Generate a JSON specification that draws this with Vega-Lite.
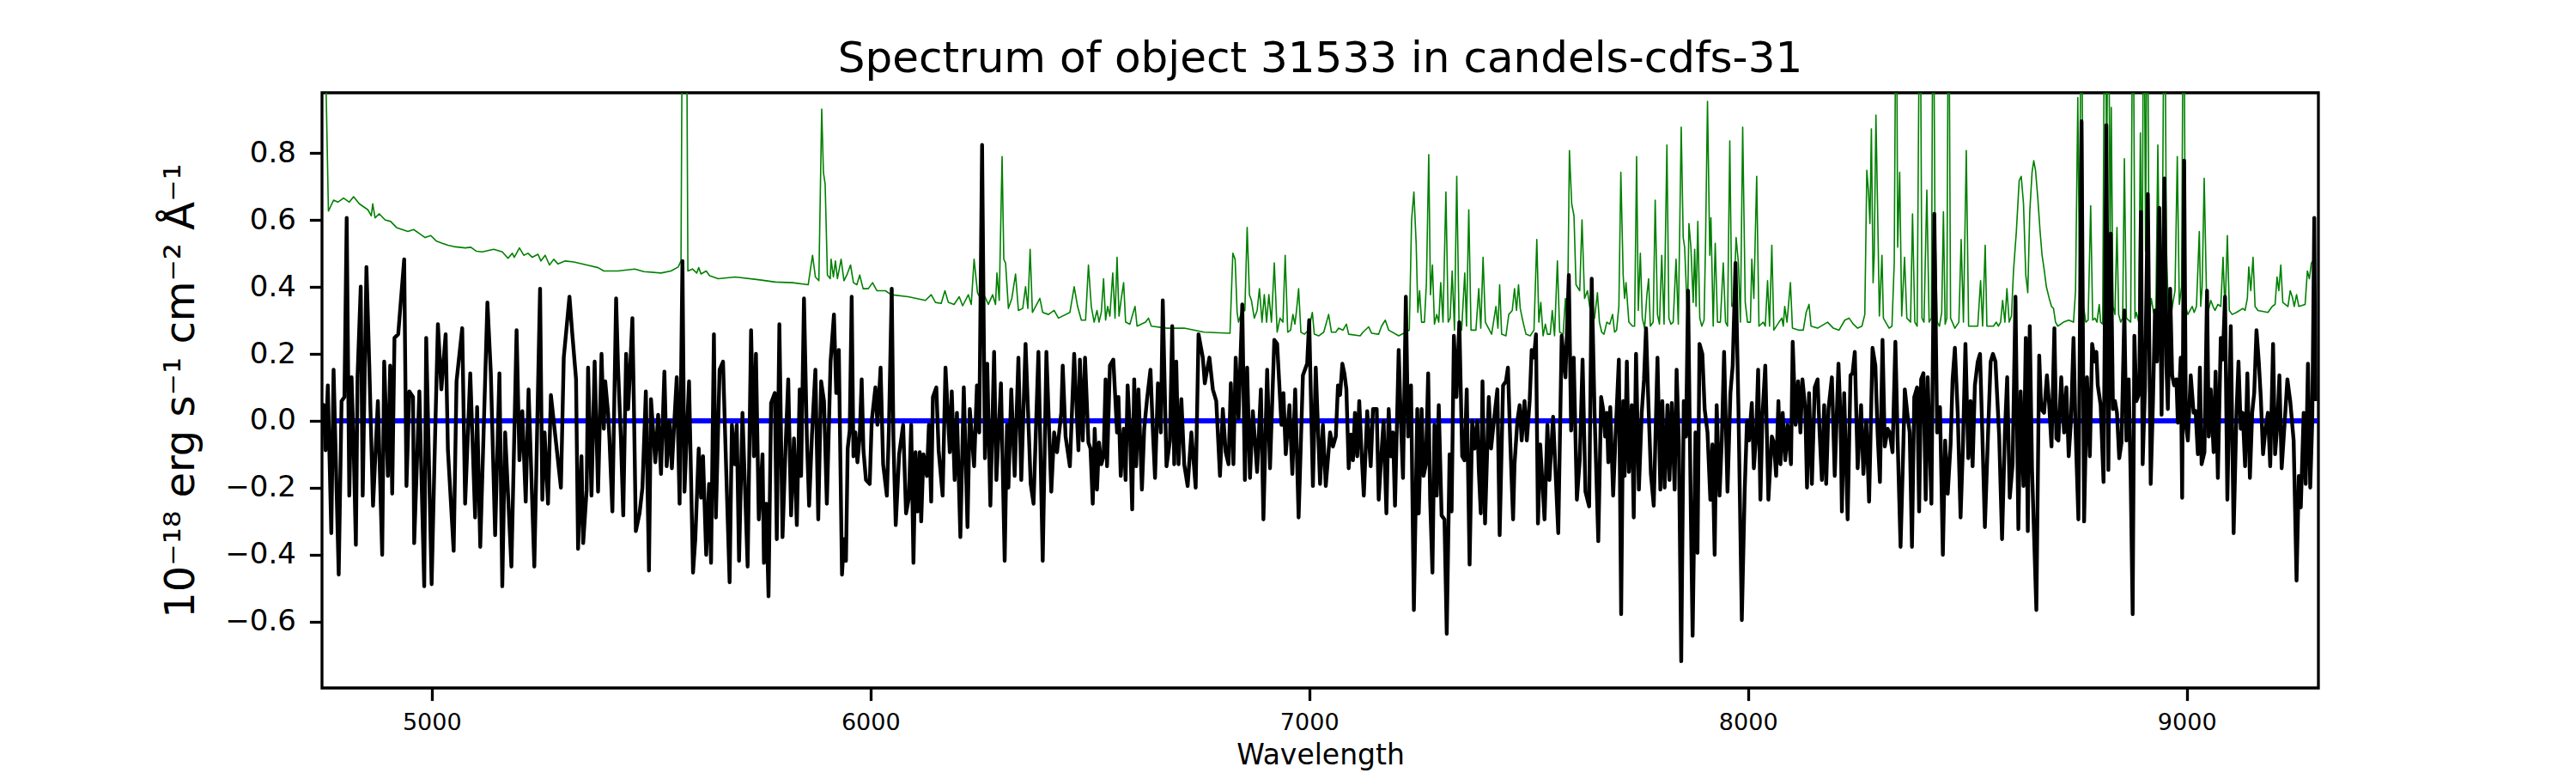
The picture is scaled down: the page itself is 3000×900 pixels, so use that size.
{
  "$schema": "https://vega.github.io/schema/vega-lite/v6.json",
  "autosize": {"type": "none"},
  "padding": {"left": 375, "top": 108, "right": 300, "bottom": 99},
  "width": 2325,
  "height": 693,
  "title": {
    "text": "Spectrum of object 31533 in candels-cdfs-31",
    "fontSize": 50,
    "font": "DejaVu Sans",
    "fontWeight": "normal",
    "color": "black",
    "anchor": "middle",
    "frame": "group",
    "baseline": "alphabetic",
    "offset": 22,
    "dy": 48
  },
  "datasets": {
    "zero": [{"w": 4783, "f": 0}, {"w": 9298, "f": 0}],
    "spec": [
      {"w":4751,"f":0.05},{"w":4753.6,"f":0.047},{"w":4758.1,"f":-0.088},{"w":4763.3,"f":0.106},{"w":4771.2,"f":-0.336},{"w":4776.4,"f":0.153},{"w":4788.1,"f":-0.46},{"w":4794.6,"f":0.059},{"w":4801.1,"f":0.071},{"w":4806.3,"f":0.607},{"w":4812.2,"f":-0.224},{"w":4817.4,"f":0.13},{"w":4822,"f":-0.071},{"w":4827.2,"f":-0.371},{"w":4831.1,"f":0.136},{"w":4838.3,"f":0.401},{"w":4842.8,"f":-0.224},{"w":4851.3,"f":0.46},{"w":4857.8,"f":0.165},{"w":4866.3,"f":-0.254},{"w":4877.4,"f":0.059},{"w":4887.2,"f":-0.401},{"w":4891.7,"f":0.177},{"w":4900.2,"f":-0.165},{"w":4905.4,"f":0.165},{"w":4910,"f":-0.218},{"w":4915.2,"f":0.248},{"w":4923.7,"f":0.259},{"w":4937.3,"f":0.483},{"w":4942.5,"f":-0.195},{"w":4949.1,"f":0.088},{"w":4957.5,"f":0.071},{"w":4960.1,"f":-0.366},{"w":4971.9,"f":0.088},{"w":4983,"f":-0.495},{"w":4987.5,"f":0.248},{"w":4999.9,"f":-0.489},{"w":5006.4,"f":-0.118},{"w":5014.2,"f":0.289},{"w":5022.1,"f":0.094},{"w":5031.8,"f":0.259},{"w":5037,"f":-0.088},{"w":5050.1,"f":-0.389},{"w":5056.6,"f":0.118},{"w":5069.6,"f":0.277},{"w":5076.2,"f":-0.248},{"w":5087.9,"f":0.142},{"w":5099,"f":-0.289},{"w":5103.5,"f":0.041},{"w":5110.7,"f":-0.377},{"w":5127,"f":0.354},{"w":5134.8,"f":0.142},{"w":5144.6,"f":-0.342},{"w":5154.4,"f":0.142},{"w":5160.9,"f":-0.495},{"w":5167.4,"f":-0.035},{"w":5181.7,"f":-0.436},{"w":5193.5,"f":0.271},{"w":5200,"f":-0.118},{"w":5206.5,"f":0.029},{"w":5214.3,"f":-0.242},{"w":5220.8,"f":0.094},{"w":5233.9,"f":-0.436},{"w":5247,"f":0.395},{"w":5252.1,"f":-0.236},{"w":5257.3,"f":-0.035},{"w":5265.1,"f":-0.248},{"w":5271.7,"f":0.077},{"w":5294.5,"f":-0.2},{"w":5301,"f":0.189},{"w":5314,"f":0.371},{"w":5320.5,"f":0.259},{"w":5329,"f":0.124},{"w":5333.6,"f":-0.383},
      {"w":5341.4,"f":-0.106},{"w":5345.3,"f":-0.366},{"w":5353.2,"f":-0.206},{"w":5356.4,"f":0.159},{"w":5364.2,"f":-0.224},{"w":5371.4,"f":0.177},{"w":5379.2,"f":-0.212},{"w":5387.1,"f":0.2},{"w":5392.3,"f":-0.024},{"w":5395.5,"f":0.118},{"w":5402,"f":0.024},{"w":5405.3,"f":-0.059},{"w":5411.8,"f":-0.271},{"w":5420.3,"f":0.366},{"w":5424.9,"f":0.153},{"w":5431.4,"f":-0.059},{"w":5436.6,"f":-0.283},{"w":5443.1,"f":0.2},{"w":5447.7,"f":0.035},{"w":5452.2,"f":0.153},{"w":5457.4,"f":0.307},{"w":5460.7,"f":0.059},{"w":5465.3,"f":-0.33},{"w":5473.7,"f":-0.277},{"w":5480.3,"f":-0.2},{"w":5488.1,"f":0.088},{"w":5495.2,"f":-0.448},{"w":5499.8,"f":0.065},{"w":5509.6,"f":-0.124},{"w":5516.1,"f":0.018},{"w":5522.6,"f":-0.159},{"w":5530.4,"f":0.147},{"w":5535.6,"f":-0.136},{"w":5542.2,"f":0},{"w":5547.4,"f":-0.142},{"w":5551.9,"f":-0.029},{"w":5558.5,"f":0.13},{"w":5565,"f":-0.248},{"w":5571.5,"f":0.478},{"w":5576.1,"f":-0.212},{"w":5586.5,"f":0.118},{"w":5595.6,"f":-0.454},{"w":5600.8,"f":-0.354},{"w":5608.6,"f":-0.083},{"w":5613.9,"f":-0.23},{"w":5618.4,"f":-0.106},{"w":5625.6,"f":-0.401},{"w":5632.1,"f":-0.189},{"w":5636.7,"f":-0.425},{"w":5643.2,"f":0.259},{"w":5647.7,"f":-0.289},{"w":5656.2,"f":0.153},{"w":5664,"f":0.177},{"w":5669.2,"f":-0.059},{"w":5679,"f":-0.483},{"w":5684.2,"f":-0.012},{"w":5690.7,"f":-0.13},{"w":5695.3,"f":-0.012},{"w":5700.5,"f":-0.419},{"w":5708.3,"f":0.024},{"w":5720.1,"f":-0.436},{"w":5727.9,"f":0.271},{"w":5734.4,"f":-0.106},{"w":5739,"f":0.2},{"w":5745.5,"f":-0.295},{"w":5754,"f":-0.1},{"w":5757.2,"f":-0.425},{"w":5762.4,"f":-0.248},{"w":5767.7,"f":-0.525},{"w":5773.5,"f":0.053},{"w":5782,"f":0.083},{"w":5786.5,"f":-0.354},{"w":5792.4,"f":0.289},{"w":5799.6,"f":-0.348},{"w":5806.1,"f":-0.094},{"w":5812.6,"f":0.124},{"w":5819.1,"f":-0.283},{"w":5825.6,"f":-0.053},{"w":5832.2,"f":-0.312},{"w":5838.7,"f":0.094},{"w":5841.9,"f":-0.165},{"w":5848.5,"f":0.366},{"w":5855,"f":-0.047},{"w":5860.2,"f":-0.254},{"w":5866.7,"f":-0.041},{"w":5874.5,"f":0.153},{"w":5881,"f":-0.295},{"w":5887.6,"f":0.118},{"w":5894.1,"f":0.059},{"w":5900.6,"f":-0.248},{"w":5909.1,"f":0.177},
      {"w":5916.8,"f":0.318},{"w":5922,"f":0.083},{"w":5927.9,"f":0.212},{"w":5935.1,"f":-0.46},{"w":5939.6,"f":-0.354},{"w":5944.2,"f":-0.419},{"w":5948.1,"f":-0.083},{"w":5952.7,"f":-0.029},{"w":5957.2,"f":0.371},{"w":5961.2,"f":-0.106},{"w":5965.7,"f":-0.035},{"w":5970.3,"f":-0.124},{"w":5975.5,"f":-0.047},{"w":5980,"f":0.124},{"w":5984,"f":-0.088},{"w":5989.8,"f":-0.177},{"w":5998.3,"f":-0.189},{"w":6002.9,"f":0},{"w":6011.3,"f":0.1},{"w":6015.9,"f":-0.012},{"w":6023.1,"f":0.159},{"w":6028.9,"f":-0.13},{"w":6037.4,"f":-0.224},{"w":6042,"f":-0.029},{"w":6048.5,"f":0.395},{"w":6052.4,"f":-0.059},{"w":6057.6,"f":-0.312},{"w":6065.4,"f":-0.1},{"w":6074.5,"f":-0.012},{"w":6081.1,"f":-0.277},{"w":6087.6,"f":-0.23},{"w":6092.8,"f":-0.012},{"w":6098,"f":-0.425},{"w":6102.6,"f":-0.094},{"w":6107.1,"f":-0.271},{"w":6112.3,"f":-0.094},{"w":6115.6,"f":-0.301},{"w":6120.8,"f":-0.1},{"w":6128.6,"f":-0.165},{"w":6133.2,"f":-0.012},{"w":6138.4,"f":-0.242},{"w":6142.3,"f":0.071},{"w":6150.1,"f":0.1},{"w":6155.4,"f":-0.088},{"w":6164.5,"f":-0.224},{"w":6171,"f":0.159},{"w":6180.8,"f":-0.094},{"w":6185.3,"f":0.088},{"w":6191.9,"f":-0.177},{"w":6197.1,"f":0.024},{"w":6204.9,"f":-0.348},{"w":6212.7,"f":0.1},{"w":6221.2,"f":-0.318},{"w":6226.4,"f":0.035},{"w":6236.2,"f":-0.136},{"w":6242.7,"f":0.106},{"w":6247.9,"f":-0.035},{"w":6254.4,"f":0.825},{"w":6260.9,"f":-0.112},{"w":6266.1,"f":0.171},{"w":6273.3,"f":-0.254},{"w":6281.8,"f":0.206},{"w":6287,"f":-0.177},{"w":6297.4,"f":0.112},{"w":6305.9,"f":-0.419},{"w":6311.1,"f":-0.012},{"w":6314.4,"f":-0.2},{"w":6320.9,"f":0.094},{"w":6328.7,"f":-0.165},{"w":6337.2,"f":0.189},{"w":6343.7,"f":-0.177},{"w":6353.5,"f":0.23},{"w":6365.2,"f":-0.189},{"w":6371.7,"f":-0.248},{"w":6382.8,"f":0.206},{"w":6392.6,"f":-0.419},{"w":6401,"f":0.206},{"w":6412.1,"f":-0.212},{"w":6418.6,"f":-0.035},{"w":6425.2,"f":-0.094},{"w":6434.9,"f":0.024},{"w":6438.2,"f":0.165},{"w":6444.7,"f":-0.047},{"w":6454.5,"f":-0.136},{"w":6464.3,"f":0.2},{"w":6474,"f":-0.088},{"w":6477.3,"f":0.183},{"w":6483.8,"f":-0.059},{"w":6489,"f":0.189},
      {"w":6496.8,"f":-0.065},{"w":6501.4,"f":-0.083},{"w":6506.6,"f":-0.248},{"w":6511.1,"f":-0.024},{"w":6516.3,"f":-0.206},{"w":6520.9,"f":-0.065},{"w":6526.1,"f":-0.13},{"w":6531.3,"f":-0.106},{"w":6535.9,"f":0.124},{"w":6539.2,"f":-0.136},{"w":6545.7,"f":0.165},{"w":6553.5,"f":0.183},{"w":6562,"f":-0.035},{"w":6565.2,"f":0.071},{"w":6570.4,"f":-0.165},{"w":6577,"f":-0.024},{"w":6581.5,"f":-0.177},{"w":6586.1,"f":0.106},{"w":6591.3,"f":-0.024},{"w":6596.5,"f":-0.265},{"w":6601.1,"f":0.124},{"w":6605.6,"f":-0.136},{"w":6610.8,"f":0.094},{"w":6618.7,"f":-0.206},{"w":6623.9,"f":-0.024},{"w":6630.4,"f":0.065},{"w":6638.2,"f":0.153},{"w":6643.4,"f":-0.024},{"w":6648.6,"f":-0.171},{"w":6655.2,"f":0.112},{"w":6661.7,"f":-0.035},{"w":6666.2,"f":0.36},{"w":6674.7,"f":-0.136},{"w":6682.5,"f":-0.059},{"w":6687.7,"f":0.283},{"w":6692.3,"f":-0.13},{"w":6696.9,"f":0.177},{"w":6702.1,"f":-0.13},{"w":6708.6,"f":0.065},{"w":6715.1,"f":-0.13},{"w":6722.9,"f":-0.195},{"w":6731.4,"f":-0.035},{"w":6741.2,"f":-0.2},{"w":6747.7,"f":0.259},{"w":6757.5,"f":0.189},{"w":6762,"f":0.112},{"w":6767.3,"f":0.153},{"w":6772.5,"f":0.189},{"w":6780.3,"f":0.094},{"w":6788.1,"f":0.059},{"w":6796.6,"f":-0.165},{"w":6803.1,"f":0.035},{"w":6809.6,"f":-0.094},{"w":6816.1,"f":-0.13},{"w":6821.3,"f":0.112},{"w":6827.2,"f":-0.13},{"w":6832.4,"f":0.189},{"w":6838.9,"f":0.006},{"w":6847.4,"f":0.348},{"w":6853.3,"f":-0.177},{"w":6858.5,"f":0.159},{"w":6865,"f":-0.171},{"w":6871.5,"f":0.029},{"w":6881.3,"f":-0.153},{"w":6889.8,"f":0.094},{"w":6895.6,"f":-0.295},{"w":6904.1,"f":0.153},{"w":6910.6,"f":-0.142},{"w":6920.4,"f":0.242},{"w":6926.9,"f":0.23},{"w":6936.7,"f":-0.012},{"w":6941.2,"f":0.083},{"w":6946.5,"f":-0.1},{"w":6954.9,"f":0.047},{"w":6961.5,"f":-0.159},{"w":6968,"f":0.094},{"w":6975.8,"f":-0.289},{"w":6985.6,"f":0.136},{"w":6995.3,"f":0.171},{"w":6999.9,"f":0.301},{"w":7008.4,"f":-0.195},{"w":7014.9,"f":0.159},{"w":7024.7,"f":-0.189},{"w":7031.2,"f":-0.012},{"w":7037.7,"f":-0.195},{"w":7047.5,"f":-0.035},{"w":7054,"f":-0.077},{"w":7060.6,"f":-0.047},{"w":7065.5,"f":0.106},
      {"w":7070.3,"f":0.077},{"w":7075.5,"f":0.171},{"w":7080.1,"f":0.142},{"w":7084.7,"f":0.094},{"w":7089.9,"f":-0.142},{"w":7095.1,"f":-0.041},{"w":7099.7,"f":-0.118},{"w":7104.2,"f":0.024},{"w":7109.4,"f":-0.106},{"w":7114,"f":0.059},{"w":7119.2,"f":-0.094},{"w":7124.4,"f":-0.224},{"w":7132.2,"f":0.029},{"w":7140.1,"f":-0.136},{"w":7145.3,"f":0.035},{"w":7153.8,"f":0.035},{"w":7158.3,"f":-0.236},{"w":7164.8,"f":-0.094},{"w":7169.4,"f":0},{"w":7175.9,"f":-0.277},{"w":7181.1,"f":0.035},{"w":7185.7,"f":-0.106},{"w":7190.9,"f":-0.035},{"w":7195.5,"f":-0.254},{"w":7203.9,"f":0.212},{"w":7208.5,"f":0.012},{"w":7213.7,"f":-0.171},{"w":7220.2,"f":0.371},{"w":7225.4,"f":-0.047},{"w":7232,"f":0.106},{"w":7238.5,"f":-0.566},{"w":7246.3,"f":0.035},{"w":7249.6,"f":-0.277},{"w":7256.1,"f":0.035},{"w":7260.6,"f":-0.165},{"w":7265.8,"f":-0.13},{"w":7271.1,"f":0.142},{"w":7275.6,"f":-0.236},{"w":7280.8,"f":-0.454},{"w":7285.4,"f":-0.012},{"w":7290.6,"f":-0.224},{"w":7295.2,"f":0.047},{"w":7301.7,"f":-0.283},{"w":7308.2,"f":-0.295},{"w":7313.4,"f":-0.637},{"w":7319.9,"f":-0.1},{"w":7324.5,"f":-0.271},{"w":7329.7,"f":0.254},{"w":7335.6,"f":0.071},{"w":7342.1,"f":0.295},{"w":7348.6,"f":-0.106},{"w":7353.8,"f":-0.118},{"w":7359,"f":0.094},{"w":7365.5,"f":-0.43},{"w":7371.4,"f":0},{"w":7376.6,"f":-0.083},{"w":7383.2,"f":0},{"w":7386.4,"f":-0.147},{"w":7391,"f":-0.277},{"w":7394.9,"f":0.118},{"w":7400.7,"f":-0.307},{"w":7409.2,"f":0.071},{"w":7414.4,"f":-0.083},{"w":7420.9,"f":0},{"w":7428.8,"f":0.094},{"w":7434,"f":-0.342},{"w":7441.8,"f":0.106},{"w":7448.3,"f":0.118},{"w":7452.9,"f":0.159},{"w":7458.1,"f":-0.059},{"w":7464.6,"f":-0.295},{"w":7467.9,"f":-0.13},{"w":7474.4,"f":0},{"w":7479.6,"f":0.047},{"w":7484.2,"f":-0.059},{"w":7490.7,"f":0.059},{"w":7495.9,"f":-0.059},{"w":7502.4,"f":0.059},{"w":7507,"f":0.212},{"w":7512.2,"f":0.189},{"w":7516.8,"f":0.259},{"w":7521.3,"f":-0.307},{"w":7526.5,"f":-0.071},{"w":7531.1,"f":-0.177},{"w":7536.3,"f":-0.295},{"w":7542.8,"f":-0.012},{"w":7547.4,"f":-0.177},{"w":7555.8,"f":0.012},{"w":7567.6,"f":-0.336},{"w":7575.4,"f":0.254},{"w":7583.9,"f":0.13},{"w":7591.7,"f":0.436},{"w":7596.9,"f":-0.029},{"w":7602.8,"f":0.189},{"w":7610,"f":-0.236},{"w":7616.5,"f":-0.118},{"w":7623,"f":0.183},{"w":7629.5,"f":-0.212},{"w":7638,"f":-0.256},
      {"w":7643.8,"f":0.425},{"w":7650.3,"f":0.024},{"w":7658.8,"f":-0.36},{"w":7665.3,"f":0.071},{"w":7669.8,"f":0.035},{"w":7674.4,"f":-0.047},{"w":7678.3,"f":0.024},{"w":7681.6,"f":-0.124},{"w":7686.1,"f":0.041},{"w":7692.7,"f":-0.224},{"w":7699.2,"f":-0.012},{"w":7705.7,"f":0.183},{"w":7710.9,"f":-0.578},{"w":7715.5,"f":0.059},{"w":7718.7,"f":-0.165},{"w":7723.9,"f":0.177},{"w":7728.5,"f":-0.153},{"w":7735,"f":0.047},{"w":7739.6,"f":-0.289},{"w":7744.8,"f":0.2},{"w":7751.3,"f":-0.206},{"w":7757.8,"f":0.024},{"w":7763,"f":0.124},{"w":7767.6,"f":0.277},{"w":7772.2,"f":0.083},{"w":7778.7,"f":-0.159},{"w":7785.2,"f":-0.254},{"w":7793.7,"f":0.189},{"w":7800.2,"f":-0.206},{"w":7804.7,"f":0.059},{"w":7810,"f":-0.2},{"w":7816.5,"f":0.047},{"w":7821,"f":-0.177},{"w":7826.3,"f":0.053},{"w":7832.8,"f":-0.206},{"w":7837.3,"f":0.153},{"w":7842.5,"f":-0.071},{"w":7847.8,"f":-0.719},{"w":7853.6,"f":0.059},{"w":7858.8,"f":-0.047},{"w":7863.4,"f":0.389},{"w":7869.9,"f":-0.295},{"w":7873.8,"f":-0.643},{"w":7880.3,"f":-0.035},{"w":7884.9,"f":-0.395},{"w":7889.5,"f":0.23},{"w":7896,"f":0.2},{"w":7901.2,"f":0.035},{"w":7907.7,"f":-0.035},{"w":7914.2,"f":-0.236},{"w":7918.8,"f":-0.071},{"w":7924,"f":-0.401},{"w":7928.6,"f":0.047},{"w":7935.1,"f":-0.224},{"w":7940.3,"f":-0.059},{"w":7945.5,"f":0.206},{"w":7953.3,"f":-0.212},{"w":7959.9,"f":0.083},{"w":7965.1,"f":0.165},{"w":7971.6,"f":0.472},{"w":7978.1,"f":0.047},{"w":7985.9,"f":-0.596},{"w":7992.4,"f":-0.212},{"w":7997.7,"f":0},{"w":8002.2,"f":-0.059},{"w":8008.7,"f":0.053},{"w":8013.3,"f":-0.142},{"w":8018.5,"f":-0.047},{"w":8023.1,"f":0.153},{"w":8028.3,"f":-0.236},{"w":8032.8,"f":0.012},{"w":8039.4,"f":0.165},{"w":8046.5,"f":-0.236},{"w":8054.3,"f":-0.047},{"w":8058.9,"f":-0.065},{"w":8064.1,"f":-0.165},{"w":8069.3,"f":0.059},{"w":8073.9,"f":-0.13},{"w":8079.1,"f":0.024},{"w":8085,"f":-0.118},{"w":8090.2,"f":-0.012},{"w":8098,"f":-0.13},{"w":8101.9,"f":0.236},{"w":8108.4,"f":-0.012},{"w":8114.3,"f":0.118},{"w":8119.5,"f":-0.035},{"w":8124.1,"f":0.124},{"w":8130.6,"f":0.035},{"w":8134.5,"f":-0.2},{"w":8139.1,"f":0.083},{"w":8145.6,"f":-0.189},{"w":8152.1,"f":0.1},{"w":8158.6,"f":0.124},{"w":8163.2,"f":-0.035},{"w":8168.4,"f":-0.177},{"w":8173.6,"f":0.047},{"w":8178.2,"f":-0.189},{"w":8183.4,"f":0.035},{"w":8191.2,"f":0.13},{"w":8197.7,"f":-0.165},{"w":8206.2,"f":0.171},{"w":8210.8,"f":0.012},{"w":8214,"f":-0.271},{"w":8219.2,"f":0.083},
      {"w":8227.1,"f":-0.295},{"w":8233.6,"f":0.136},{"w":8238.2,"f":0.142},{"w":8243.4,"f":0.206},{"w":8249.9,"f":-0.142},{"w":8257.7,"f":0.047},{"w":8263,"f":-0.159},{"w":8269.5,"f":0},{"w":8276,"f":-0.242},{"w":8283.8,"f":0.218},{"w":8290.3,"f":0.165},{"w":8295.5,"f":-0.041},{"w":8300.7,"f":-0.183},{"w":8306.6,"f":0.242},{"w":8311.8,"f":-0.077},{"w":8318.3,"f":-0.024},{"w":8322.9,"f":-0.035},{"w":8329.4,"f":-0.094},{"w":8335.9,"f":0.236},{"w":8341.1,"f":-0.059},{"w":8347.7,"f":-0.377},{"w":8352.9,"f":-0.13},{"w":8357.4,"f":0.094},{"w":8364,"f":0.012},{"w":8368.5,"f":-0.035},{"w":8373.7,"f":-0.377},{"w":8378.9,"f":0.071},{"w":8385.5,"f":0.1},{"w":8390,"f":-0.271},{"w":8394.6,"f":0.124},{"w":8399.8,"f":0.142},{"w":8405,"f":-0.236},{"w":8409.6,"f":0.13},{"w":8418,"f":-0.248},{"w":8424.6,"f":0.619},{"w":8431.1,"f":-0.035},{"w":8437.6,"f":0.041},{"w":8444.1,"f":-0.401},{"w":8449.3,"f":-0.059},{"w":8455.2,"f":-0.218},{"w":8461.7,"f":-0.071},{"w":8466.3,"f":0.124},{"w":8471.5,"f":0.218},{"w":8478,"f":0.024},{"w":8484.5,"f":-0.289},{"w":8489.7,"f":-0.083},{"w":8495.6,"f":0.23},{"w":8502.1,"f":-0.112},{"w":8507.3,"f":0.059},{"w":8511.9,"f":-0.136},{"w":8517.1,"f":0.106},{"w":8523.6,"f":0.177},{"w":8528.8,"f":0.2},{"w":8534,"f":-0.035},{"w":8539.9,"f":-0.318},{"w":8546.4,"f":-0.065},{"w":8553,"f":0.177},{"w":8558.2,"f":0.2},{"w":8564,"f":0.177},{"w":8572.5,"f":-0.047},{"w":8579,"f":-0.354},{"w":8585.5,"f":-0.035},{"w":8590.7,"f":0.13},{"w":8596.6,"f":-0.23},{"w":8603.1,"f":-0.13},{"w":8609.6,"f":0.371},{"w":8616.2,"f":-0.324},{"w":8621.4,"f":0.088},{"w":8627.9,"f":-0.195},{"w":8633.1,"f":0.248},{"w":8637.7,"f":-0.33},{"w":8642.2,"f":0.283},{"w":8647.4,"f":-0.147},{"w":8657.2,"f":-0.566},{"w":8663.7,"f":0.195},{"w":8668.3,"f":0.035},{"w":8674.8,"f":0.024},{"w":8681.3,"f":0.136},{"w":8686.5,"f":0.047},{"w":8691.7,"f":-0.077},{"w":8698.3,"f":0.277},{"w":8702.8,"f":-0.053},{"w":8707.4,"f":-0.059},{"w":8713.9,"f":0.13},{"w":8720.4,"f":-0.035},{"w":8725.6,"f":0.1},{"w":8730.9,"f":-0.106},{"w":8736.1,"f":0},{"w":8741.9,"f":0.248},{"w":8746.5,"f":-0.024},{"w":8753,"f":-0.295},{"w":8760.2,"f":0.896},{"w":8766,"f":-0.301},{"w":8772.6,"f":0.13},{"w":8779.1,"f":-0.106},{"w":8784.3,"f":0.23},{"w":8790.8,"f":0.177},
      {"w":8794,"f":0.206},{"w":8797.2,"f":0.106},{"w":8803.7,"f":0.047},{"w":8810.3,"f":-0.183},{"w":8816.8,"f":0.884},{"w":8821.3,"f":-0.147},{"w":8826.6,"f":0.56},{"w":8831.8,"f":0.035},{"w":8836.3,"f":0.059},{"w":8840.9,"f":0.024},{"w":8846.1,"f":-0.112},{"w":8851.3,"f":-0.065},{"w":8857.8,"f":0.33},{"w":8862.4,"f":-0.059},{"w":8867.6,"f":0.124},{"w":8872.2,"f":-0.177},{"w":8876.7,"f":-0.578},{"w":8880.6,"f":0.254},{"w":8885.2,"f":0.059},{"w":8891.7,"f":0.083},{"w":8895.6,"f":0.625},{"w":8899.5,"f":-0.13},{"w":8904.8,"f":0.1},{"w":8911.3,"f":0.678},{"w":8917.8,"f":-0.189},{"w":8923,"f":0.059},{"w":8927.6,"f":0.33},{"w":8932.1,"f":0.177},{"w":8937.3,"f":0.637},{"w":8942.6,"f":0.018},{"w":8949.1,"f":0.725},{"w":8953.6,"f":0.165},{"w":8956.9,"f":0.035},{"w":8962.1,"f":0.395},{"w":8966.7,"f":0.136},{"w":8971.2,"f":0.106},{"w":8976.4,"f":0.124},{"w":8979.7,"f":-0.006},{"w":8986.2,"f":0.189},{"w":8989.5,"f":-0.23},{"w":8994,"f":0.778},{"w":8998,"f":-0.012},{"w":9002.5,"f":-0.059},{"w":9009,"f":0.136},{"w":9015.6,"f":0.024},{"w":9020.1,"f":0.029},{"w":9025.3,"f":-0.1},{"w":9029.9,"f":0.159},{"w":9033.8,"f":-0.13},{"w":9040.3,"f":-0.094},{"w":9046.2,"f":0.389},{"w":9050.1,"f":-0.047},{"w":9054.7,"f":0.094},{"w":9061.2,"f":-0.094},{"w":9065.7,"f":0.147},{"w":9070.9,"f":-0.171},{"w":9077.5,"f":0.248},{"w":9082,"f":0.183},{"w":9087.2,"f":0.371},{"w":9092.5,"f":-0.236},{"w":9100.3,"f":0.283},{"w":9106.8,"f":-0.336},{"w":9113.3,"f":0.024},{"w":9117.9,"f":0.177},{"w":9123.1,"f":-0.024},{"w":9127.6,"f":0.024},{"w":9132.9,"f":-0.136},{"w":9138.1,"f":0.142},{"w":9143.9,"f":-0.171},{"w":9149.1,"f":0.024},{"w":9153.7,"f":0.083},{"w":9158.9,"f":0.271},{"w":9164.1,"f":0.177},{"w":9168.7,"f":0.071},{"w":9173.9,"f":-0.1},{"w":9178.5,"f":-0.035},{"w":9185,"f":0.024},{"w":9190.2,"f":-0.136},{"w":9196.7,"f":0.23},{"w":9201.3,"f":-0.1},{"w":9206.5,"f":-0.012},{"w":9211.1,"f":0.136},{"w":9216.3,"f":-0.142},{"w":9222.8,"f":-0.012},{"w":9229.3,"f":0.124},{"w":9235.8,"f":0.059},{"w":9243.6,"f":-0.059},{"w":9250.2,"f":-0.478},{"w":9255.4,"f":-0.165},{"w":9259.9,"f":-0.259},{"w":9266.4,"f":0.024},{"w":9271,"f":-0.189},{"w":9276.2,"f":0.171},{"w":9281.4,"f":-0.2},{"w":9286,"f":0},{"w":9290.6,"f":0.607},{"w":9293.2,"f":0.059}
    ],
    "sky": [
      {"w":4752,"f":1.5},{"w":4764.6,"f":0.627},{"w":4776.4,"f":0.66},{"w":4786.1,"f":0.654},{"w":4799.2,"f":0.666},{"w":4812.2,"f":0.654},{"w":4822,"f":0.67},{"w":4835,"f":0.649},{"w":4854.6,"f":0.631},{"w":4862.4,"f":0.613},{"w":4865.6,"f":0.649},{"w":4870.9,"f":0.607},{"w":4880.6,"f":0.619},{"w":4893.7,"f":0.601},{"w":4906.7,"f":0.596},{"w":4919.7,"f":0.578},{"w":4932.8,"f":0.572},{"w":4945.8,"f":0.566},{"w":4958.8,"f":0.572},{"w":4971.9,"f":0.56},{"w":4984.9,"f":0.548},{"w":4998,"f":0.554},{"w":5011,"f":0.537},{"w":5024,"f":0.531},{"w":5037.1,"f":0.525},{"w":5050.1,"f":0.521},{"w":5063.1,"f":0.519},{"w":5076.2,"f":0.517},{"w":5089.2,"f":0.519},{"w":5102.2,"f":0.507},{"w":5115.3,"f":0.505},{"w":5128.3,"f":0.509},{"w":5141.3,"f":0.513},{"w":5160.9,"f":0.505},{"w":5173.9,"f":0.486},{"w":5183.7,"f":0.501},{"w":5188.2,"f":0.489},{"w":5200,"f":0.517},{"w":5209.8,"f":0.495},{"w":5219.5,"f":0.501},{"w":5229.3,"f":0.489},{"w":5242.3,"f":0.498},{"w":5248.9,"f":0.478},{"w":5258.6,"f":0.495},{"w":5268.4,"f":0.466},{"w":5278.2,"f":0.483},{"w":5288,"f":0.469},{"w":5304.2,"f":0.478},{"w":5323.8,"f":0.475},
      {"w":5353.2,"f":0.466},{"w":5379.2,"f":0.458},{"w":5392.3,"f":0.448},{"w":5424.9,"f":0.448},{"w":5462.7,"f":0.454},{"w":5483.5,"f":0.446},{"w":5522.6,"f":0.442},{"w":5545.4,"f":0.448},{"w":5561.7,"f":0.46},{"w":5568.2,"f":0.478},{"w":5572.1,"f":1.5},{"w":5580,"f":1.5},{"w":5583.9,"f":0.448},{"w":5594.3,"f":0.454},{"w":5604.1,"f":0.442},{"w":5608.6,"f":0.458},{"w":5613.9,"f":0.439},{"w":5625.6,"f":0.448},{"w":5633.4,"f":0.434},{"w":5653,"f":0.425},{"w":5692,"f":0.43},{"w":5744.2,"f":0.422},{"w":5783.3,"f":0.415},{"w":5822.4,"f":0.413},{"w":5858.2,"f":0.407},{"w":5868,"f":0.495},{"w":5874.5,"f":0.43},{"w":5882.4,"f":0.419},{"w":5888.9,"f":0.932},{"w":5892.8,"f":0.743},{"w":5896.7,"f":0.708},{"w":5901.9,"f":0.436},{"w":5908.4,"f":0.425},
      {"w":5910.3,"f":0.483},{"w":5915.5,"f":0.43},{"w":5920.1,"f":0.478},{"w":5924.7,"f":0.425},{"w":5933.1,"f":0.483},{"w":5939.6,"f":0.419},{"w":5946.2,"f":0.436},{"w":5954.6,"f":0.466},{"w":5961.2,"f":0.413},{"w":5969,"f":0.407},{"w":5975.5,"f":0.436},{"w":5983.3,"f":0.395},{"w":5995,"f":0.395},{"w":6004.8,"f":0.413},{"w":6014.6,"f":0.389},{"w":6034.1,"f":0.389},{"w":6047.2,"f":0.377},{"w":6086.3,"f":0.371},{"w":6125.4,"f":0.36},{"w":6138.4,"f":0.377},{"w":6148.2,"f":0.354},{"w":6161.2,"f":0.351},{"w":6169.7,"f":0.389},{"w":6177.5,"f":0.354},{"w":6190.5,"f":0.348},{"w":6202.3,"f":0.371},{"w":6210.1,"f":0.344},{"w":6223.1,"f":0.377},{"w":6229.7,"f":0.348},{"w":6236.2,"f":0.483},{"w":6244,"f":0.383},{"w":6252.5,"f":0.36},{"w":6260.9,"f":0.371},{"w":6268.8,"f":0.348},{"w":6278.5,"f":0.377},{"w":6285,"f":0.348},{"w":6288.3,"f":0.442},{"w":6293.5,"f":0.36},{"w":6300,"f":0.79},{"w":6303.9,"f":0.483},{"w":6307.9,"f":0.472},{"w":6314.4,"f":0.336},{"w":6322.2,"f":0.366},{"w":6330.7,"f":0.439},{"w":6337.2,"f":0.33},{"w":6347,"f":0.336},{"w":6353.5,"f":0.401},{"w":6358.7,"f":0.336},{"w":6363.9,"f":0.513},{"w":6369.1,"f":0.324},{"w":6386.1,"f":0.366},{"w":6392.6,"f":0.324},{"w":6405.6,"f":0.318},{"w":6418.6,"f":0.33},{"w":6428.4,"f":0.307},{"w":6454.5,"f":0.324},{"w":6464.3,"f":0.401},{"w":6472.1,"f":0.342},{"w":6480.6,"f":0.301},
      {"w":6490.3,"f":0.301},{"w":6496.8,"f":0.466},{"w":6503.3,"f":0.342},{"w":6509.8,"f":0.295},{"w":6516.3,"f":0.33},{"w":6520.9,"f":0.295},{"w":6526.1,"f":0.324},{"w":6531.3,"f":0.425},{"w":6535.9,"f":0.301},{"w":6540.5,"f":0.342},{"w":6545.7,"f":0.313},{"w":6552.2,"f":0.442},{"w":6557.4,"f":0.307},{"w":6562,"f":0.489},{"w":6566.5,"f":0.313},{"w":6571.7,"f":0.366},{"w":6577,"f":0.413},{"w":6581.5,"f":0.295},{"w":6591.3,"f":0.289},{"w":6596.5,"f":0.313},{"w":6603,"f":0.342},{"w":6607.6,"f":0.283},{"w":6627.1,"f":0.295},{"w":6633.7,"f":0.307},{"w":6640.2,"f":0.283},{"w":6676,"f":0.277},{"w":6715.1,"f":0.277},{"w":6760.7,"f":0.265},{"w":6819.4,"f":0.262},{"w":6825.9,"f":0.501},{"w":6831.1,"f":0.483},{"w":6835.7,"f":0.324},{"w":6838.9,"f":0.295},{"w":6845.5,"f":0.324},{"w":6853.3,"f":0.33},{"w":6858.5,"f":0.578},{"w":6863.7,"f":0.377},{"w":6868.3,"f":0.36},{"w":6874.8,"f":0.307},{"w":6881.3,"f":0.33},{"w":6886.5,"f":0.395},{"w":6892.4,"f":0.295},{"w":6897.6,"f":0.377},{"w":6902.8,"f":0.295},{"w":6908,"f":0.377},{"w":6913.9,"f":0.295},{"w":6920.4,"f":0.472},{"w":6926.9,"f":0.265},{"w":6933.4,"f":0.307},{"w":6940,"f":0.295},{"w":6945.2,"f":0.495},{"w":6951,"f":0.265},{"w":6957.5,"f":0.271},{"w":6962.8,"f":0.318},{"w":6967.3,"f":0.289},{"w":6970.6,"f":0.324},{"w":6975.8,"f":0.395},{"w":6981,"f":0.265},{"w":6988.8,"f":0.259},{"w":6998.6,"f":0.271},{"w":7007.1,"f":0.324},{"w":7011.6,"f":0.259},{"w":7021.4,"f":0.254},{"w":7033.1,"f":0.265},{"w":7044.2,"f":0.318},{"w":7050.7,"f":0.265},{"w":7060.5,"f":0.265},
      {"w":7067.1,"f":0.277},{"w":7076.9,"f":0.271},{"w":7084.7,"f":0.289},{"w":7089.9,"f":0.259},{"w":7116,"f":0.254},{"w":7122.5,"f":0.265},{"w":7135.5,"f":0.281},{"w":7142,"f":0.262},{"w":7158.3,"f":0.259},{"w":7164.8,"f":0.283},{"w":7173.3,"f":0.301},{"w":7181.1,"f":0.271},{"w":7203.9,"f":0.254},{"w":7220.2,"f":0.265},{"w":7228.1,"f":0.271},{"w":7233.3,"f":0.601},{"w":7238.5,"f":0.684},{"w":7243.7,"f":0.531},{"w":7247.6,"f":0.324},{"w":7251.5,"f":0.389},{"w":7256.1,"f":0.295},{"w":7262.6,"f":0.295},{"w":7267.1,"f":0.413},{"w":7272.4,"f":0.796},{"w":7276.3,"f":0.377},{"w":7280.8,"f":0.466},{"w":7285.4,"f":0.289},{"w":7290.6,"f":0.318},{"w":7295.2,"f":0.295},{"w":7299.7,"f":0.413},{"w":7304.9,"f":0.295},{"w":7311.5,"f":0.684},{"w":7316.7,"f":0.295},{"w":7321.2,"f":0.307},{"w":7325.8,"f":0.448},{"w":7331,"f":0.271},{"w":7336.2,"f":0.731},{"w":7341.4,"f":0.295},{"w":7347.3,"f":0.271},{"w":7354.5,"f":0.442},{"w":7358.4,"f":0.283},{"w":7363.6,"f":0.631},{"w":7368.8,"f":0.271},{"w":7379.9,"f":0.271},{"w":7386.4,"f":0.395},{"w":7391,"f":0.277},{"w":7396.2,"f":0.489},{"w":7401.4,"f":0.295},{"w":7415.7,"f":0.259},{"w":7425.5,"f":0.342},{"w":7430.1,"f":0.277},{"w":7434,"f":0.407},{"w":7438.5,"f":0.259},{"w":7448.3,"f":0.254},{"w":7454.8,"f":0.318},{"w":7462.7,"f":0.33},{"w":7467.9,"f":0.395},{"w":7472.4,"f":0.33},{"w":7477,"f":0.407},{"w":7480.9,"f":0.336},{"w":7487.4,"f":0.295},{"w":7494,"f":0.259},{"w":7503.7,"f":0.254},{"w":7512.2,"f":0.271},{"w":7518.7,"f":0.542},{"w":7523.3,"f":0.295},{"w":7527.8,"f":0.354},{"w":7533,"f":0.254},{"w":7538.2,"f":0.289},{"w":7542.8,"f":0.259},{"w":7549.3,"f":0.259},{"w":7553.9,"f":0.33},{"w":7559.1,"f":0.254},{"w":7565.6,"f":0.478},{"w":7570.8,"f":0.265},{"w":7578.7,"f":0.259},{"w":7583.9,"f":0.366},{"w":7588.4,"f":0.277},{"w":7593,"f":0.808},{"w":7598.2,"f":0.649},{"w":7603.4,"f":0.613},{"w":7608,"f":0.407},{"w":7616.5,"f":0.389},{"w":7621.7,"f":0.601},{"w":7627.5,"f":0.366},{"w":7634.1,"f":0.389},
      {"w":7639.2,"f":0.342},{"w":7643.8,"f":0.295},{"w":7650.3,"f":0.307},{"w":7656.8,"f":0.383},{"w":7661.4,"f":0.295},{"w":7666.6,"f":0.265},{"w":7671.8,"f":0.259},{"w":7678.3,"f":0.295},{"w":7684.8,"f":0.289},{"w":7691.3,"f":0.318},{"w":7695.9,"f":0.265},{"w":7700.5,"f":0.271},{"w":7705.7,"f":0.342},{"w":7710.2,"f":0.743},{"w":7715.5,"f":0.436},{"w":7718.7,"f":0.366},{"w":7722,"f":0.413},{"w":7728.5,"f":0.295},{"w":7737,"f":0.283},{"w":7741.5,"f":0.283},{"w":7746.1,"f":0.79},{"w":7750,"f":0.33},{"w":7754.6,"f":0.501},{"w":7759.1,"f":0.307},{"w":7764.3,"f":0.277},{"w":7769.6,"f":0.377},{"w":7773.5,"f":0.425},{"w":7777.4,"f":0.283},{"w":7783.9,"f":0.295},{"w":7788.5,"f":0.66},{"w":7793.7,"f":0.318},{"w":7798.2,"f":0.289},{"w":7803.4,"f":0.495},{"w":7808.7,"f":0.289},{"w":7815.2,"f":0.825},{"w":7819.7,"f":0.307},{"w":7824.3,"f":0.289},{"w":7829.5,"f":0.295},{"w":7836,"f":0.483},{"w":7841.2,"f":0.289},{"w":7847.8,"f":0.878},{"w":7852.3,"f":0.548},{"w":7855.6,"f":0.519},{"w":7862.1,"f":0.307},{"w":7865.4,"f":0.59},{"w":7869.9,"f":0.519},{"w":7875.1,"f":0.354},{"w":7878.4,"f":0.513},{"w":7881.6,"f":0.342},{"w":7885.6,"f":0.596},{"w":7890.1,"f":0.307},{"w":7894.7,"f":0.283},{"w":7899.9,"f":0.301},{"w":7903.2,"f":0.531},{"w":7907.7,"f":0.955},{"w":7912.9,"f":0.495},{"w":7915.5,"f":0.607},{"w":7920.7,"f":0.283},{"w":7925.3,"f":0.531},{"w":7930.5,"f":0.295},{"w":7937,"f":0.295},{"w":7943.6,"f":0.472},{"w":7948.8,"f":0.295},{"w":7953.3,"f":0.283},{"w":7958.5,"f":0.837},{"w":7963.1,"f":0.342},{"w":7967.7,"f":0.354},{"w":7972.9,"f":0.548},{"w":7978.1,"f":0.472},{"w":7982.7,"f":0.295},{"w":7987.9,"f":0.878},{"w":7993.7,"f":0.354},{"w":7998.9,"f":0.295},{"w":8005.5,"f":0.295},{"w":8008.7,"f":0.483},{"w":8013.3,"f":0.366},{"w":8019.8,"f":0.731},{"w":8025,"f":0.283},{"w":8034.8,"f":0.295},{"w":8039.4,"f":0.283},{"w":8044.6,"f":0.419},{"w":8049.1,"f":0.283},{"w":8054.3,"f":0.525},{"w":8058.9,"f":0.271},{"w":8070.6,"f":0.295},{"w":8077.2,"f":0.307},{"w":8080.4,"f":0.283},{"w":8083.7,"f":0.342},{"w":8088.9,"f":0.295},{"w":8096.7,"f":0.413},{"w":8101.3,"f":0.277},{"w":8116.3,"f":0.271},{"w":8126,"f":0.271},{"w":8132.5,"f":0.324},{"w":8139.1,"f":0.348},{"w":8143.6,"f":0.283},{"w":8158.6,"f":0.277},{"w":8181.4,"f":0.295},{"w":8194.5,"f":0.277},{"w":8207.5,"f":0.271},
      {"w":8220.6,"f":0.301},{"w":8230.4,"f":0.307},{"w":8240.1,"f":0.289},{"w":8249.9,"f":0.277},{"w":8259.7,"f":0.283},{"w":8266.2,"f":0.318},{"w":8270.8,"f":0.749},{"w":8274.7,"f":0.684},{"w":8277.9,"f":0.59},{"w":8281.2,"f":0.873},{"w":8285.1,"f":0.413},{"w":8287.7,"f":0.495},{"w":8291.6,"f":0.914},{"w":8295.5,"f":0.625},{"w":8299.4,"f":0.313},{"w":8305.3,"f":0.495},{"w":8308.6,"f":0.307},{"w":8313.8,"f":0.295},{"w":8321.6,"f":0.277},{"w":8328.1,"f":0.283},{"w":8333.3,"f":0.472},{"w":8337.9,"f":1.5},{"w":8341.1,"f":0.519},{"w":8345.7,"f":0.743},{"w":8350.3,"f":0.313},{"w":8356.8,"f":0.489},{"w":8362,"f":0.307},{"w":8370.5,"f":0.295},{"w":8375,"f":0.619},{"w":8380.2,"f":0.295},{"w":8385.5,"f":0.283},{"w":8392,"f":1.5},{"w":8396.5,"f":0.307},{"w":8401.1,"f":0.295},{"w":8407.6,"f":0.69},{"w":8412.8,"f":0.295},{"w":8418,"f":0.307},{"w":8422,"f":1.5},{"w":8425.9,"f":0.625},{"w":8431.1,"f":0.295},{"w":8436.3,"f":0.283},{"w":8441.5,"f":0.324},{"w":8445.4,"f":0.625},{"w":8449.3,"f":0.289},{"w":8453.2,"f":0.307},{"w":8457.1,"f":1.5},{"w":8461.7,"f":0.307},{"w":8471.5,"f":0.277},{"w":8480.6,"f":0.295},{"w":8485.8,"f":0.542},{"w":8491,"f":0.295},{"w":8497.5,"f":0.808},{"w":8502.8,"f":0.283},{"w":8517.1,"f":0.283},{"w":8523.6,"f":0.283},{"w":8530.1,"f":0.419},{"w":8534.7,"f":0.283},{"w":8540.6,"f":0.525},{"w":8544.5,"f":0.283},{"w":8559.5,"f":0.283},{"w":8566,"f":0.295},{"w":8570.5,"f":0.283},{"w":8575.7,"f":0.295},{"w":8580.3,"f":0.36},{"w":8585.5,"f":0.295},{"w":8590.1,"f":0.395},{"w":8595.3,"f":0.295},{"w":8600.5,"f":0.313},{"w":8605.1,"f":0.448},{"w":8611.6,"f":0.566},{"w":8618.1,"f":0.719},{"w":8622.7,"f":0.731},{"w":8627.9,"f":0.649},{"w":8633.1,"f":0.436},{"w":8637.7,"f":0.383},{"w":8642.2,"f":0.625},{"w":8647.4,"f":0.743},{"w":8651.3,"f":0.778},{"w":8655.3,"f":0.749},{"w":8660.5,"f":0.666},{"w":8665.7,"f":0.566},{"w":8670.2,"f":0.495},{"w":8674.8,"f":0.454},{"w":8680,"f":0.401},{"w":8686.5,"f":0.366},{"w":8691.7,"f":0.342},{"w":8696.3,"f":0.336},{"w":8700.9,"f":0.295},{"w":8706.1,"f":0.283},{"w":8719.1,"f":0.295},{"w":8730.9,"f":0.301},{"w":8741.9,"f":0.295},{"w":8746.5,"f":0.389},{"w":8751.7,"f":0.967},{"w":8755.6,"f":0.389},{"w":8759.5,"f":1.5},{"w":8764.7,"f":0.342},{"w":8770,"f":0.295},{"w":8775.2,"f":0.301},{"w":8781,"f":0.643},{"w":8785.6,"f":0.301},{"w":8790.8,"f":0.307},
      {"w":8795.3,"f":0.295},{"w":8800.5,"f":0.348},{"w":8803.7,"f":0.295},{"w":8808.3,"f":0.289},{"w":8813.5,"f":1.5},{"w":8817.4,"f":0.708},{"w":8821.3,"f":1.5},{"w":8825.2,"f":0.519},{"w":8827.9,"f":0.937},{"w":8831.8,"f":0.342},{"w":8836.3,"f":0.318},{"w":8840.9,"f":0.578},{"w":8844.8,"f":0.318},{"w":8849.4,"f":0.295},{"w":8853.9,"f":0.307},{"w":8857.8,"f":0.784},{"w":8862.4,"f":0.307},{"w":8872.2,"f":0.295},{"w":8877.4,"f":1.5},{"w":8882,"f":0.307},{"w":8885.2,"f":0.324},{"w":8890.4,"f":0.295},{"w":8894.3,"f":0.861},{"w":8898.2,"f":0.366},{"w":8902.1,"f":1.5},{"w":8906.1,"f":0.507},{"w":8910,"f":1.5},{"w":8914.5,"f":0.307},{"w":8919.1,"f":0.366},{"w":8924.3,"f":0.324},{"w":8929.5,"f":0.318},{"w":8934.1,"f":0.825},{"w":8938.6,"f":0.342},{"w":8943.9,"f":0.413},{"w":8949.1,"f":1.5},{"w":8953.6,"f":0.519},{"w":8958.2,"f":0.318},{"w":8963.4,"f":0.307},{"w":8968.6,"f":0.354},{"w":8973.2,"f":0.389},{"w":8978.4,"f":0.79},{"w":8983,"f":0.348},{"w":8988.2,"f":0.401},{"w":8992.7,"f":1.5},{"w":8997.3,"f":0.342},{"w":9002.5,"f":0.318},{"w":9012.3,"f":0.342},{"w":9016.9,"f":0.324},{"w":9022.1,"f":0.342},{"w":9028.6,"f":0.566},{"w":9031.8,"f":0.342},{"w":9035.1,"f":0.401},{"w":9039.7,"f":0.725},{"w":9044.9,"f":0.383},{"w":9049.4,"f":0.33},{"w":9054.7,"f":0.36},{"w":9059.9,"f":0.342},{"w":9064.4,"f":0.33},{"w":9071,"f":0.348},{"w":9077.5,"f":0.342},{"w":9082.7,"f":0.489},{"w":9087.2,"f":0.324},{"w":9092.5,"f":0.554},{"w":9097,"f":0.33},{"w":9103.5,"f":0.318},{"w":9113.3,"f":0.324},{"w":9127.6,"f":0.336},{"w":9132.9,"f":0.33},{"w":9138.1,"f":0.366},{"w":9141.3,"f":0.46},{"w":9145.9,"f":0.389},{"w":9151.1,"f":0.489},{"w":9155.7,"f":0.342},{"w":9162.2,"f":0.33},{"w":9185,"f":0.324},{"w":9194.8,"f":0.342},{"w":9201.3,"f":0.348},{"w":9205.8,"f":0.43},{"w":9209.8,"f":0.389},{"w":9214.3,"f":0.466},{"w":9218.9,"f":0.354},{"w":9230.6,"f":0.342},{"w":9235.8,"f":0.389},{"w":9240.4,"f":0.371},{"w":9245,"f":0.342},{"w":9250.2,"f":0.377},{"w":9255.4,"f":0.342},{"w":9269.7,"f":0.348},{"w":9274.9,"f":0.448},{"w":9279.5,"f":0.425},{"w":9284,"f":0.472},{"w":9290.6,"f":0.483}
    ]
  },
  "encoding": {
    "x": {
      "field": "w",
      "type": "quantitative",
      "scale": {"domain": [4750, 9300], "nice": false, "zero": false},
      "axis": {
        "title": "Wavelength",
        "values": [5000, 6000, 7000, 8000, 9000],
        "format": "d",
        "labelFontSize": 27,
        "labelPadding": 13,
        "labelFlush": false,
        "titleFontSize": 33,
        "titleX": 1162.5,
        "titleY": 88,
        "titleAlign": "center",
        "titleBaseline": "alphabetic"
      }
    },
    "y": {
      "field": "f",
      "type": "quantitative",
      "scale": {"domain": [-0.799, 0.981], "nice": false, "zero": false},
      "axis": {
        "title": "10⁻¹⁸ erg s⁻¹ cm⁻² Å⁻¹",
        "values": [-0.6, -0.4, -0.2, 0, 0.2, 0.4, 0.6, 0.8],
        "format": ".1f",
        "labelFontSize": 34,
        "labelPadding": 16,
        "labelFlush": false,
        "titleFontSize": 48,
        "titleX": -150,
        "titleY": 346.5,
        "titleAngle": 270,
        "titleAlign": "center",
        "titleBaseline": "alphabetic"
      }
    }
  },
  "layer": [
    {
      "data": {"name": "sky"},
      "mark": {"type": "line", "color": "#008000", "strokeWidth": 1.6, "clip": true, "strokeJoin": "round"}
    },
    {
      "data": {"name": "zero"},
      "mark": {"type": "line", "color": "#0000ff", "strokeWidth": 6, "clip": true}
    },
    {
      "data": {"name": "spec"},
      "mark": {"type": "line", "color": "#000000", "strokeWidth": 4.4, "clip": true, "strokeJoin": "round"}
    }
  ],
  "config": {
    "font": "DejaVu Sans",
    "view": {"stroke": "#000000", "strokeWidth": 3.3},
    "axis": {
      "grid": false,
      "domain": false,
      "ticks": true,
      "tickColor": "#000000",
      "tickWidth": 3.3,
      "tickSize": 14.6,
      "labelColor": "#000000",
      "labelFont": "DejaVu Sans",
      "titleColor": "#000000",
      "titleFont": "DejaVu Sans",
      "titleFontWeight": "normal"
    }
  }
}
